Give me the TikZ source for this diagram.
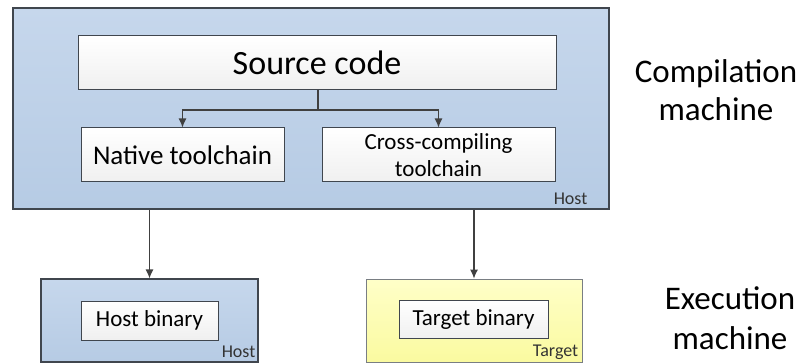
\documentclass[tikz,border=0pt]{standalone}
\usepackage{fontspec}
\setmainfont{Carlito}
\usetikzlibrary{positioning,arrows.meta}
\definecolor{hostblue}{RGB}{182,203,228}
\definecolor{hostblueL}{RGB}{198,215,236}
\definecolor{targetyel}{RGB}{250,250,160}
\definecolor{targetyelL}{RGB}{255,255,200}
\definecolor{edgegray}{RGB}{64,70,78}
\tikzset{
  hostbox/.style={draw=edgegray,line width=1.1pt,top color=hostblueL,bottom color=hostblue,inner sep=0pt},
  targetbox/.style={draw=edgegray!70,line width=0.8pt,top color=targetyelL,bottom color=targetyel,inner sep=0pt},
  toolbox/.style={draw=edgegray,line width=1pt,top color=white,bottom color=black!6,inner sep=0pt,align=center},
  tag/.style={anchor=base east,inner sep=0pt,font=\fontsize{18}{18}\selectfont,text=black!80},
  conn/.style={draw=black!75,line width=1.2pt,-{Latex[length=9pt,width=8pt]}}
}
\begin{document}
\begin{tikzpicture}[x=1pt,y=-1pt]
  \useasboundingbox (0,0) rectangle (802,363);

  % compilation side
  \node[hostbox,minimum width=596pt,minimum height=201pt] (host) at (311,108.5) {};
  \node[tag,xshift=-22pt,yshift=5pt] at (host.south east) {Host};
  \node[toolbox,minimum width=478pt,minimum height=54pt,font=\fontsize{34}{34}\selectfont] (src) at (317,63) {Source code};
  \node[toolbox,minimum width=203pt,minimum height=54pt,font=\fontsize{27}{27}\selectfont] (native) at (182.5,155) {Native toolchain};
  \node[toolbox,minimum width=233pt,minimum height=54pt,font=\fontsize{23}{27}\selectfont] (cross) at (438.5,155) {Cross-compiling\\toolchain};
  \coordinate (split) at (318,110);
  \draw[conn,-] (src.south -| split) -- (split);
  \foreach \t in {native,cross} {
    \draw[conn] (split) -| (\t.north);
  }

  % execution side
  \node[hostbox,minimum width=217pt,minimum height=83pt] (hostm) at (149.5,320.5) {};
  \node[tag,xshift=-3pt,yshift=5pt] at (hostm.south east) {Host};
  \node[toolbox,minimum width=137pt,minimum height=39pt,font=\fontsize{23}{23}\selectfont] (hostbin) at (149.5,320.5) {Host binary};
  \node[targetbox,minimum width=216pt,minimum height=83pt] (targm) at (474,320.5) {};
  \node[tag,xshift=-4pt,yshift=6pt] at (targm.south east) {Target};
  \node[toolbox,minimum width=149pt,minimum height=38pt,font=\fontsize{23}{23}\selectfont] (targbin) at (473.5,319.5) {Target binary};
  \foreach \m in {hostm,targm} {
    \draw[conn] (\m.north |- host.south) -- (\m.north);
  }

  % side captions
  \node[align=center,font=\fontsize{33}{38}\selectfont] (compcap) at (716,90) {Compilation\\machine};
  \node[align=center,font=\fontsize{33}{40}\selectfont] (execap) at (730,318) {Execution\\machine};
\end{tikzpicture}
\end{document}
